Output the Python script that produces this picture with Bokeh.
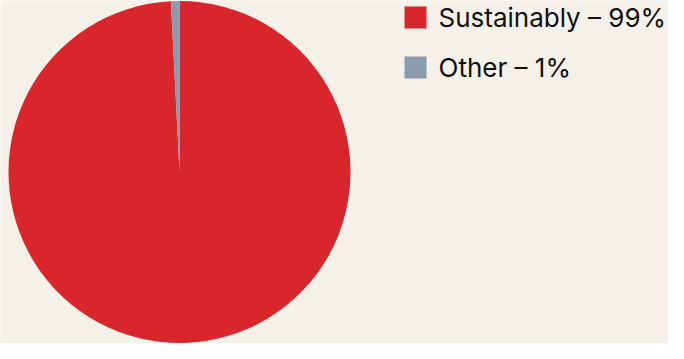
import math
from bokeh.plotting import figure
from bokeh.models import Range1d
from bokeh.core.properties import value
from bokeh.embed import file_html
from bokeh.resources import INLINE

# Data
categories = ["Sustainably", "Other"]
shares = [99.2, 0.8]
labels = ["Sustainably – 99%", "Other – 1%"]
colors = ["#d9262c", "#8a9bad"]

W, H = 668, 343
BG = "#f5f0e8"

p = figure(width=W, height=H, output_backend="svg", toolbar_location=None,
           x_range=Range1d(0, W), y_range=Range1d(0, H),
           min_border=0, background_fill_color=BG, border_fill_color=BG,
           outline_line_color=None)
p.axis.visible = False
p.grid.visible = False

# Pie
cx, cy, r = 179, 171.5, 171
total = sum(shares)
start = math.pi / 2
starts, ends = [], []
for s in shares:
    a = s / total * 2 * math.pi
    starts.append(start - a)
    ends.append(start)
    start -= a
p.wedge(x=[cx] * len(shares), y=[cy] * len(shares), radius=r,
        start_angle=starts, end_angle=ends, fill_color=colors,
        line_color=None)

# Legend
lx = 415
ly = [H - 17, H - 67]
p.rect(x=[lx] * len(labels), y=ly, width=22, height=22, fill_color=colors, line_color=None)
p.text(x=[lx + 23] * len(labels), y=ly, text=labels, text_font=value("Inter"),
       text_font_size="26px", text_baseline="middle", text_align="left",
       text_color="#111111")

open("out.html", "w").write(file_html(p, INLINE))
